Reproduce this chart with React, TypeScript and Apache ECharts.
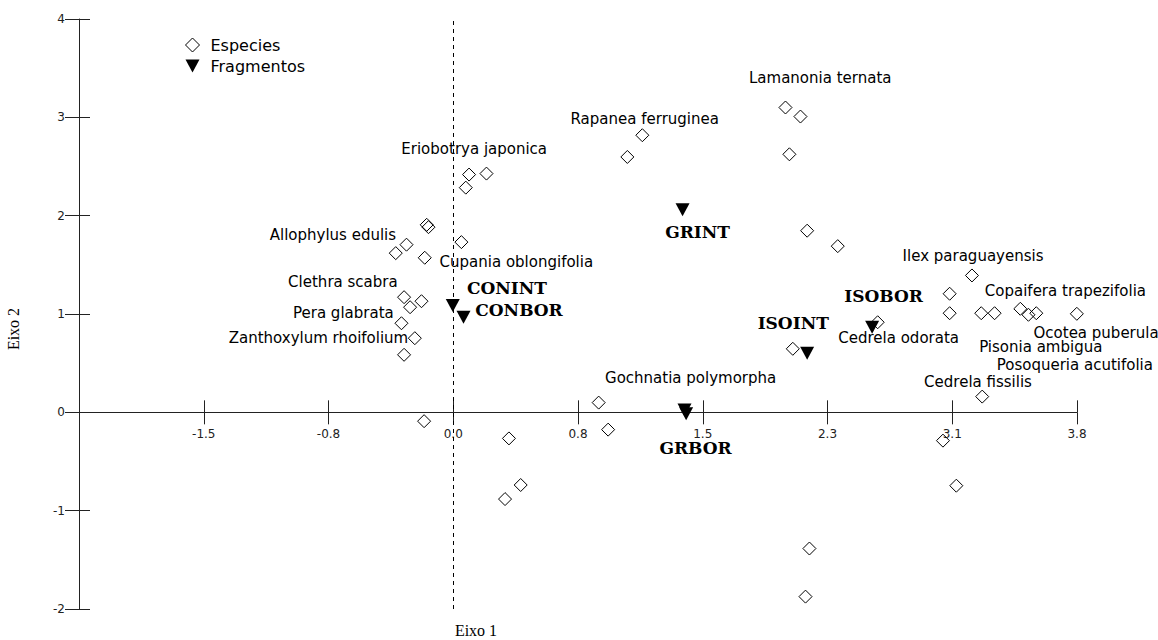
import { useEffect, useRef } from "react";
import * as echarts from "echarts";

// Axis definitions
const X_STEP = 0.766;
const X_MIN = -3 * X_STEP;
const X_MAX = 5 * X_STEP;
const xTickLabels = ["", "-1.5", "-0.8", "0.0", "0.8", "1.5", "2.3", "3.1", "3.8"];
const Y_MIN = -2;
const Y_MAX = 4;
const Y_STEP = 1;

// Species scores (Eixo 1, Eixo 2)
const speciesPoints: [number, number][] = [
  [-0.163, 1.907], [-0.152, 1.883], [-0.287, 1.705], [-0.353, 1.619], [-0.175, 1.572],
  [0.05, 1.731], [-0.302, 1.171], [-0.195, 1.13], [-0.265, 1.069], [-0.318, 0.906],
  [-0.236, 0.754], [-0.302, 0.585], [-0.179, -0.09], [0.893, 0.099], [0.951, -0.176],
  [0.342, -0.265], [0.414, -0.739], [0.318, -0.882], [2.04, 3.1], [2.132, 3.008],
  [2.064, 2.624], [1.161, 2.818], [1.069, 2.597], [0.097, 2.418], [0.204, 2.428],
  [0.077, 2.285], [2.173, 1.847], [2.361, 1.69], [3.185, 1.392], [3.048, 1.206],
  [3.048, 1.008], [3.242, 1.008], [3.324, 1.008], [3.482, 1.053], [3.532, 0.992],
  [3.58, 1.008], [3.829, 1.002], [2.606, 0.916], [2.085, 0.646], [3.248, 0.16],
  [3.007, -0.288], [3.089, -0.746], [2.187, -1.385], [2.163, -1.874],
];

// Fragment scores
const fragmentPoints: [number, number][] = [
  [-0.003, 1.087], [0.063, 0.967], [1.408, 2.061], [2.173, 0.601], [2.572, 0.866],
  [1.42, 0.025], [1.43, -0.015],
];

// Species label names and anchor (left edge, vertical middle) in data units
const speciesLabelNames = [
  "Lamanonia ternata", "Rapanea ferruginea", "Eriobotrya japonica", "Allophylus edulis",
  "Cupania oblongifolia", "Clethra scabra", "Pera glabrata", "Zanthoxylum rhoifolium",
  "Gochnatia polymorpha", "Ilex paraguayensis", "Copaifera trapezifolia", "Cedrela odorata",
  "Ocotea puberula", "Pisonia ambigua", "Posoqueria acutifolia", "Cedrela fissilis",
];
const speciesLabelPos: [number, number][] = [
  [1.813, 3.398], [0.717, 2.978], [-0.322, 2.682], [-1.13, 1.806],
  [-0.087, 1.527], [-1.017, 1.324], [-0.987, 1.008], [-1.382, 0.758],
  [0.929, 0.35], [2.756, 1.586], [3.261, 1.229], [2.361, 0.758],
  [3.56, 0.804], [3.226, 0.669], [3.334, 0.486], [2.888, 0.305],
];

// Fragment label names and anchors
const fragmentLabelNames = ["CONINT", "CONBOR", "GRINT", "ISOINT", "ISOBOR", "GRBOR"];
const fragmentLabelPos: [number, number][] = [
  [0.081, 1.267], [0.132, 1.036], [1.298, 1.833], [1.866, 0.906], [2.398, 1.178], [1.263, -0.363],
];

const axisNames = { x: "Eixo 1", y: "Eixo 2" };

export default function App() {
  const ref = useRef<HTMLDivElement>(null);

  useEffect(() => {
    if (!ref.current) return;
    const chart = echarts.init(ref.current, null, { renderer: "svg" });
    const axisColor = "#222";
    const W = 1158;
    const H = 640;
    const gridLeft = 79;
    const gridRight = 81;
    const gridTop = 19;
    const gridBottom = 31;
    const gridWidth = W - gridLeft - gridRight;
    const gridHeight = H - gridTop - gridBottom;
    // distance of the y = 0 line from the grid's top and bottom edges
    const zeroFromTop = (gridHeight * (Y_MAX - 0)) / (Y_MAX - Y_MIN);
    const zeroFromBottom = gridHeight - zeroFromTop;

    const option: any = {
      animation: false,
      backgroundColor: "#ffffff",
      grid: { left: gridLeft, right: gridRight, top: gridTop, bottom: gridBottom },
      legend: {
        left: 180,
        top: 32,
        orient: "vertical",
        itemGap: 5,
        itemWidth: 14,
        itemHeight: 14,
        selectedMode: false,
        data: ["Especies", "Fragmentos"],
        itemStyle: { borderWidth: 1, opacity: 1 },
        textStyle: { fontFamily: "DejaVu Sans", fontSize: 16, color: "#000", padding: [0, 0, 0, 6] },
      },
      xAxis: [
        {
          type: "value",
          min: X_MIN,
          max: X_MAX,
          interval: X_STEP,
          position: "bottom",
          offset: -zeroFromBottom,
          axisLine: { show: true, onZero: false, lineStyle: { color: axisColor, width: 1 } },
          axisTick: { show: true, length: 12, lineStyle: { color: axisColor, width: 1 } },
          axisLabel: {
            show: true,
            margin: 16,
            color: "#222",
            fontFamily: "DejaVu Sans",
            fontSize: 12,
            formatter: (v: number) => xTickLabels[Math.round((v - X_MIN) / X_STEP)] ?? "",
          },
          splitLine: { show: false },
        },
        {
          type: "value",
          min: X_MIN,
          max: X_MAX,
          interval: X_STEP,
          position: "top",
          offset: -zeroFromTop,
          axisLine: { show: false, onZero: false },
          axisTick: { show: true, length: 12, lineStyle: { color: axisColor, width: 1 } },
          axisLabel: { show: false },
          splitLine: { show: false },
        },
      ],
      yAxis: [
        {
          type: "value",
          min: Y_MIN,
          max: Y_MAX,
          interval: Y_STEP,
          position: "left",
          axisLine: { show: true, onZero: false, lineStyle: { color: axisColor, width: 1 } },
          axisTick: { show: true, length: 14, lineStyle: { color: axisColor, width: 1 } },
          axisLabel: { show: true, margin: 14, color: "#222", fontFamily: "DejaVu Sans", fontSize: 12 },
          splitLine: { show: false },
        },
        {
          type: "value",
          min: Y_MIN,
          max: Y_MAX,
          interval: Y_STEP,
          position: "right",
          offset: -gridWidth,
          axisLine: { show: false, onZero: false },
          axisTick: { show: true, length: 11, lineStyle: { color: axisColor, width: 1 } },
          axisLabel: { show: false },
          splitLine: { show: false },
        },
      ],
      graphic: [
        {
          type: "text",
          x: 476,
          y: 630,
          style: {
            text: axisNames.x,
            font: '16px "Liberation Serif"',
            fill: "#000",
            align: "center",
            verticalAlign: "middle",
          },
        },
        {
          type: "text",
          x: 13,
          y: 329,
          rotation: Math.PI / 2,
          style: {
            text: axisNames.y,
            font: '16px "Liberation Serif"',
            fill: "#000",
            align: "center",
            verticalAlign: "middle",
          },
        },
      ],
      series: [
        {
          name: "Especies",
          type: "scatter",
          data: speciesPoints,
          symbol: "diamond",
          symbolSize: 13,
          itemStyle: { color: "rgba(255,255,255,0)", borderColor: "#000", borderWidth: 1, opacity: 1 },
          markLine: {
            silent: true,
            symbol: ["none", "none"],
            label: { show: false },
            lineStyle: { color: "#000", type: [4, 4], width: 1, opacity: 1 },
            data: [[{ coord: [0, Y_MIN] }, { coord: [0, Y_MAX] }]],
          },
          z: 3,
        },
        {
          name: "Fragmentos",
          type: "scatter",
          data: fragmentPoints,
          symbol: "path://M0,0L14,0L7,13Z",
          symbolSize: [14, 13],
          itemStyle: { color: "#000", opacity: 1 },
          z: 4,
        },
        {
          name: "speciesLabels",
          type: "scatter",
          silent: true,
          symbolSize: 1,
          itemStyle: { color: "rgba(0,0,0,0)", opacity: 1 },
          data: speciesLabelNames.map((n, i) => ({ name: n, value: speciesLabelPos[i] })),
          label: {
            show: true,
            position: "right",
            distance: 0,
            formatter: "{b}",
            fontFamily: "DejaVu Sans",
            fontSize: 15,
            color: "#000",
            opacity: 1,
          },
          z: 5,
        },
        {
          name: "fragmentLabels",
          type: "scatter",
          silent: true,
          symbolSize: 1,
          itemStyle: { color: "rgba(0,0,0,0)", opacity: 1 },
          data: fragmentLabelNames.map((n, i) => ({ name: n, value: fragmentLabelPos[i] })),
          label: {
            show: true,
            position: "right",
            distance: 0,
            formatter: "{b}",
            fontFamily: "DejaVu Serif",
            fontWeight: "bold",
            fontSize: 17,
            color: "#000",
            opacity: 1,
          },
          z: 5,
        },
      ],
    };

    chart.setOption(option);
    return () => {
      chart.dispose();
    };
  }, []);

  return (
    <div
      ref={ref}
      style={{ position: "fixed", left: 0, top: 0, width: 1158, height: 640, background: "#fff" }}
    />
  );
}
